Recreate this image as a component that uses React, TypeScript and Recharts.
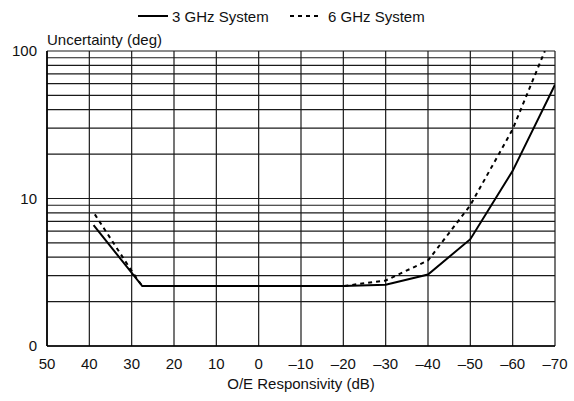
import React from "react";
import { LineChart, Line, XAxis, YAxis, CartesianGrid, Legend } from "recharts";

const FONT = "'Liberation Sans', Arial, Helvetica, sans-serif";

// x axis: O/E responsivity in dB, drawn from +50 down to -70
const responsivityTicks = [50, 40, 30, 20, 10, 0, -10, -20, -30, -40, -50, -60, -70];
// log grid, labels only at the decades
const uncertaintyGrid = [1, 2, 3, 4, 5, 6, 7, 8, 9, 10, 20, 30, 40, 50, 60, 70, 80, 90, 100];
const decadeLabels: Record<number, string> = { 1: "0", 10: "10", 100: "100" };

// 3 GHz system (solid)
const sys3Resp = [39, 27.5, -20, -30, -40, -50, -60, -70];
const sys3Unc = [6.6, 2.55, 2.55, 2.6, 3.05, 5.3, 15.4, 59];

// 6 GHz system (dashed)
const sys6Resp = [38.7, 29.6, 27.5, -20, -30, -40, -50, -60, -67.6];
const sys6Unc = [7.8, 3.1, 2.55, 2.55, 2.78, 3.8, 9, 29.5, 100];

const sys3 = sys3Resp.map((x, i) => ({ x, y: sys3Unc[i] }));
const sys6 = sys6Resp.map((x, i) => ({ x, y: sys6Unc[i] }));

const fmtResp = (v: number) => (v < 0 ? `\u2013${Math.abs(v)}` : `${v}`);

const YTick = (props: any) => {
  const { x, y, payload } = props;
  const label = decadeLabels[payload.value];
  if (!label) return null;
  return (
    <text x={x} y={y} dy="0.36em" textAnchor="end" fontFamily={FONT} fontSize={15} fill="#111">
      {label}
    </text>
  );
};

const renderLegend = () => (
  <svg width={574} height={51} style={{ display: "block" }}>
    <line x1={138} x2={168} y1={16} y2={16} stroke="#000" strokeWidth={2} />
    <text x={172} y={21.5} fontFamily={FONT} fontSize={15} fill="#111">
      3 GHz System
    </text>
    <line x1={290} x2={320} y1={16} y2={16} stroke="#000" strokeWidth={2} strokeDasharray="4 4" />
    <text x={328} y={21.5} fontFamily={FONT} fontSize={15} fill="#111">
      6 GHz System
    </text>
  </svg>
);

export default function App() {
  return (
    <div style={{ position: "absolute", left: 0, top: 0, background: "#fff" }}>
      <LineChart width={574} height={401} margin={{ top: 0, right: 19, bottom: 0, left: 0 }}>
        <CartesianGrid stroke="#1a1a1a" strokeWidth={1.2} />
        <Legend
          verticalAlign="top"
          content={renderLegend}
          wrapperStyle={{ left: 0, top: 0, width: 574, height: 51 }}
        />
        <XAxis
          type="number"
          dataKey="x"
          domain={[-70, 50]}
          reversed
          ticks={responsivityTicks}
          interval={0}
          allowDataOverflow
          tickFormatter={fmtResp}
          tickLine={false}
          tickMargin={6}
          height={55}
          axisLine={{ stroke: "#000", strokeWidth: 1.6 }}
          tick={{ fontFamily: FONT, fontSize: 15, fill: "#111" }}
          label={(p: any) => {
            const vb = p.viewBox;
            return (
              <text
                x={vb.x + vb.width / 2}
                y={389}
                textAnchor="middle"
                fontFamily={FONT}
                fontSize={15}
                fill="#111"
              >
                O/E Responsivity (dB)
              </text>
            );
          }}
        />
        <YAxis
          type="number"
          scale="log"
          domain={[1, 100]}
          ticks={uncertaintyGrid}
          interval={0}
          allowDataOverflow
          width={47}
          tickLine={false}
          tickMargin={4}
          tick={<YTick />}
          axisLine={{ stroke: "#000", strokeWidth: 1.6 }}
          label={(p: any) => {
            const vb = p.viewBox;
            return (
              <text x={vb.x + vb.width} y={vb.y - 6} fontFamily={FONT} fontSize={15} fill="#111">
                Uncertainty (deg)
              </text>
            );
          }}
        />
        <Line
          data={sys3}
          dataKey="y"
          type="linear"
          stroke="#000"
          strokeWidth={2}
          dot={false}
          isAnimationActive={false}
        />
        <Line
          data={sys6}
          dataKey="y"
          type="linear"
          stroke="#000"
          strokeWidth={2}
          strokeDasharray="4 4"
          dot={false}
          isAnimationActive={false}
        />
      </LineChart>
    </div>
  );
}
